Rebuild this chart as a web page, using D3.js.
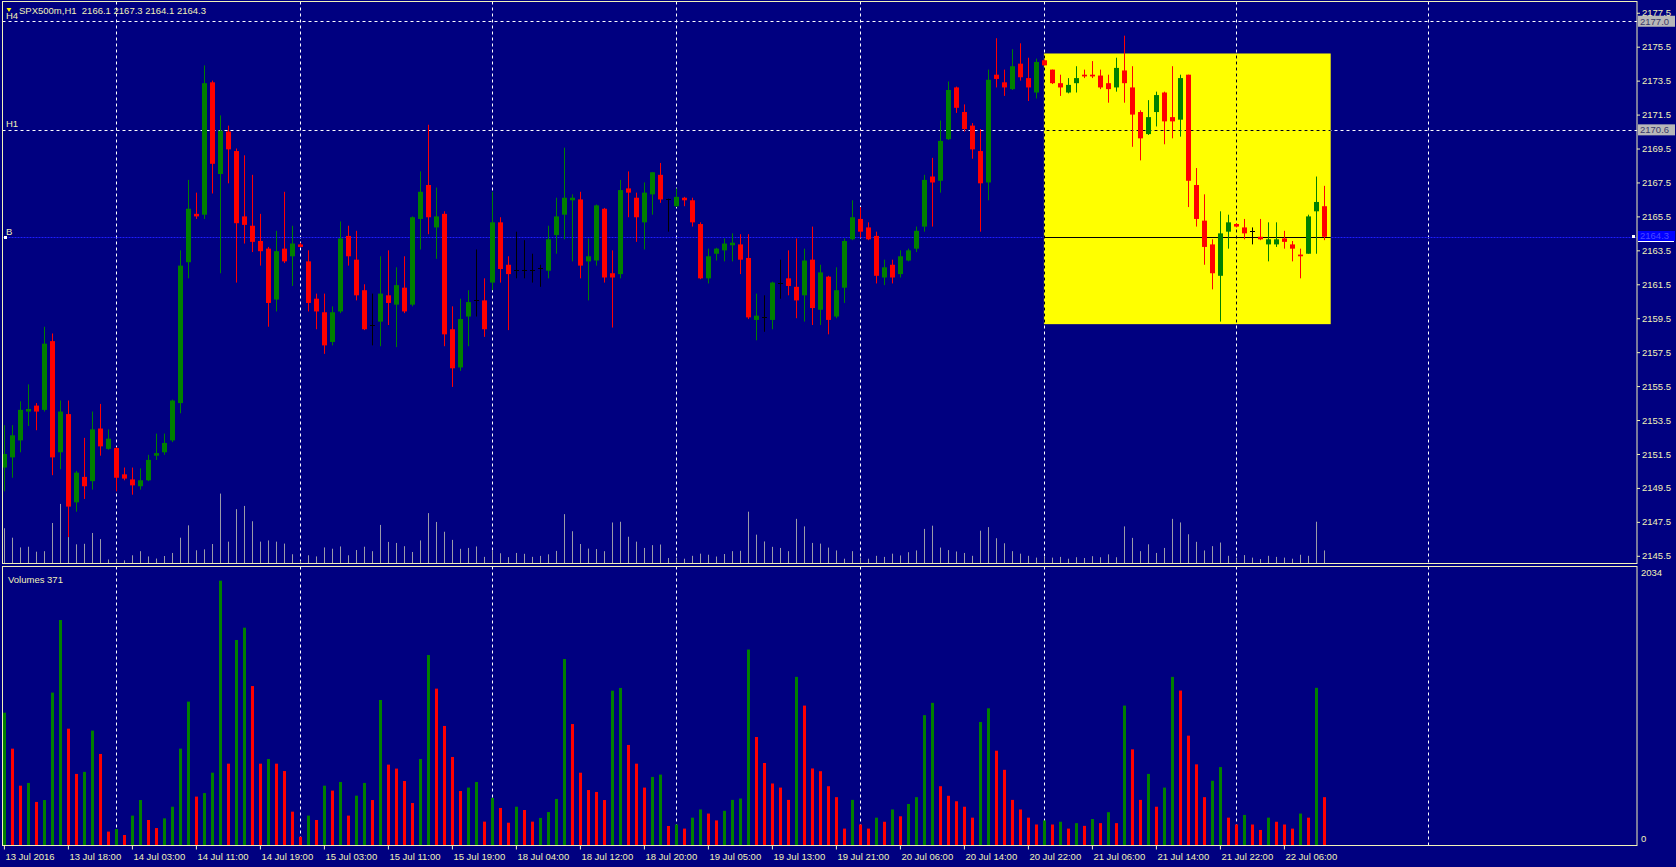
<!DOCTYPE html>
<html><head><meta charset="utf-8">
<script src="https://cdn.jsdelivr.net/npm/d3@7"></script>
<style>html,body{margin:0;padding:0;background:#000080;overflow:hidden}</style>
</head><body>
<svg id="c" width="1676" height="867"></svg>
<script>
// ---------- DATA ----------
const symbolTitle = "SPX500m,H1  2166.1 2167.3 2164.1 2164.3";
const opens = [2150.7,2151.3,2152.3,2154.0,2154.35,2154.1,2158.15,2151.6,2153.85,2148.65,
2150.15,2149.9,2153.0,2151.8,2151.85,2150.3,2150.0,2149.6,2149.95,2151.4,
2151.6,2152.3,2154.5,2162.8,2165.65,2165.6,2173.4,2168.0,2170.5,2169.35,
2165.5,2164.95,2164.05,2163.6,2160.6,2163.6,2163.15,2163.85,2162.85,2160.65,
2159.85,2158.1,2159.9,2164.35,2162.95,2161.15,2159.1,2159.3,2160.85,2160.3,
2161.3,2160.3,2165.35,2167.35,2164.85,2165.65,2158.85,2156.6,2159.6,2160.6,
2160.55,2161.6,2165.15,2162.65,2162.35,2162.35,2162.35,2162.45,2162.3,2164.4,
2165.6,2166.45,2166.5,2162.85,2162.9,2165.95,2162.15,2162.1,2167.15,2166.6,
2165.15,2166.8,2167.95,2166.5,2166.1,2166.6,2166.45,2165.05,2161.85,2163.3,
2163.5,2163.8,2163.85,2163.05,2159.4,2159.6,2159.4,2161.6,2161.85,2161.35,
2160.85,2162.95,2160.0,2161.95,2159.6,2161.3,2164.15,2165.35,2164.85,2164.35,
2161.9,2162.65,2162.1,2162.9,2163.6,2164.9,2167.85,2167.6,2170.05,2173.1,
2171.65,2170.85,2169.35,2167.5,2173.85,2173.4,2173.0,2174.5,2173.65,2172.8,
2174.7,2174.15,2173.35,2172.8,2173.35,2173.85,2173.85,2173.8,2173.35,2173.1,
2174.1,2173.1,2171.65,2170.35,2171.65,2172.8,2171.35,2171.2,2173.85,2167.35,
2165.25,2163.85,2162.0,2164.6,2165.05,2164.85,2164.65,2164.3,2163.85,2163.85,
2164.2,2163.85,2163.25,2163.3,2165.8,2166.1];
const highs = [2153.2,2153.2,2154.6,2155.6,2154.5,2159.0,2158.6,2154.65,2154.65,2150.5,
2152.45,2154.0,2154.45,2152.95,2151.9,2150.7,2150.7,2150.65,2151.45,2152.7,
2152.7,2154.7,2163.5,2167.65,2166.9,2174.4,2173.5,2171.45,2170.85,2169.5,
2169.1,2167.95,2165.65,2163.7,2164.65,2166.95,2164.95,2163.95,2163.5,2160.95,
2160.95,2160.2,2165.2,2164.95,2164.65,2161.5,2160.95,2163.15,2163.5,2162.5,
2163.15,2165.5,2168.15,2170.9,2167.2,2165.8,2160.2,2160.65,2161.15,2163.55,
2161.85,2166.95,2165.45,2163.15,2164.6,2164.1,2163.3,2162.65,2164.95,2166.6,
2169.55,2166.8,2166.95,2164.2,2166.2,2166.0,2163.5,2167.65,2168.15,2166.9,
2167.5,2168.1,2168.65,2166.55,2167.15,2166.65,2166.6,2165.15,2163.6,2163.65,
2164.2,2164.5,2164.45,2164.45,2160.95,2160.85,2161.65,2162.95,2163.5,2164.2,
2163.6,2164.9,2162.65,2162.0,2162.5,2164.2,2166.45,2166.05,2165.15,2164.6,
2162.95,2162.95,2163.5,2163.6,2164.9,2167.95,2168.95,2171.15,2173.45,2173.15,
2172.1,2171.0,2170.65,2174.15,2176.0,2174.15,2175.35,2175.7,2174.85,2174.8,
2174.75,2174.15,2173.85,2173.65,2174.35,2174.15,2174.65,2174.15,2173.85,2174.85,
2176.15,2174.35,2171.75,2172.35,2172.85,2172.85,2174.35,2173.85,2173.85,2168.35,
2166.8,2164.15,2165.8,2165.6,2165.1,2165.35,2164.85,2165.35,2165.15,2165.15,
2164.65,2164.05,2163.6,2165.6,2167.85,2167.3];
const lows = [2149.3,2150.1,2151.6,2153.15,2152.9,2154.0,2150.25,2150.6,2146.6,2148.1,
2148.85,2149.4,2151.4,2151.75,2149.3,2149.95,2149.1,2149.4,2149.9,2151.15,
2151.45,2152.2,2153.9,2161.85,2165.35,2165.35,2166.85,2162.15,2167.45,2161.6,
2163.9,2163.4,2162.6,2159.0,2159.9,2162.75,2161.4,2163.7,2159.9,2158.85,
2157.4,2157.9,2159.8,2162.6,2160.55,2158.8,2157.9,2157.85,2159.1,2157.8,
2159.8,2160.2,2163.55,2164.45,2163.0,2157.85,2155.45,2156.4,2157.85,2159.6,
2158.4,2161.15,2161.6,2158.8,2161.85,2161.85,2161.6,2161.35,2161.85,2163.3,
2164.15,2162.85,2161.85,2160.55,2162.6,2161.6,2158.95,2161.85,2165.45,2164.0,
2163.55,2165.6,2166.3,2164.6,2166.05,2166.1,2164.9,2161.8,2161.55,2162.9,
2162.85,2162.85,2162.1,2159.45,2158.2,2158.7,2158.85,2160.65,2160.85,2159.5,
2159.3,2159.1,2159.1,2158.55,2159.5,2160.4,2164.1,2164.25,2164.1,2161.55,
2161.45,2161.55,2161.9,2162.85,2163.4,2164.6,2164.9,2166.9,2170.0,2171.6,
2170.5,2168.9,2164.6,2166.45,2173.1,2172.6,2172.95,2173.5,2172.3,2172.45,
2174.4,2173.3,2172.6,2172.75,2172.8,2173.65,2173.65,2173.0,2172.2,2172.85,
2172.2,2169.6,2168.8,2170.3,2170.8,2169.75,2170.1,2170.2,2166.05,2164.9,
2162.65,2161.2,2159.3,2163.6,2164.85,2164.15,2163.85,2164.1,2162.85,2163.7,
2163.6,2162.85,2161.85,2163.3,2163.3,2164.1];
const closes = [2151.5,2152.6,2154.1,2154.15,2154.0,2158.0,2151.3,2154.0,2148.4,2150.4,
2149.6,2152.95,2151.95,2152.4,2150.1,2150.05,2149.65,2149.95,2151.15,2151.55,
2152.15,2154.65,2162.6,2165.95,2165.5,2173.35,2168.6,2170.55,2169.45,2165.1,
2165.0,2164.0,2163.45,2160.4,2163.45,2162.85,2163.9,2163.7,2160.4,2159.9,
2157.9,2159.85,2164.2,2163.15,2160.85,2158.85,2159.1,2160.95,2160.4,2161.45,
2159.9,2165.45,2166.95,2165.45,2165.5,2158.55,2156.55,2159.45,2160.45,2160.6,
2158.85,2165.15,2162.4,2162.1,2162.35,2162.35,2162.35,2162.45,2164.15,2165.5,
2166.6,2166.6,2162.6,2163.15,2166.15,2161.9,2161.9,2167.05,2166.9,2165.45,
2166.9,2168.1,2166.5,2166.5,2166.65,2166.45,2165.15,2161.85,2163.15,2163.6,
2163.9,2163.95,2162.95,2159.55,2159.65,2159.6,2161.6,2161.6,2161.4,2160.55,
2162.9,2160.1,2162.2,2159.4,2161.15,2164.05,2165.45,2164.6,2164.15,2162.0,
2162.5,2161.9,2163.15,2163.5,2164.65,2167.65,2167.5,2169.95,2172.95,2171.9,
2170.65,2169.45,2167.45,2173.55,2173.6,2173.1,2174.35,2173.7,2173.1,2174.6,
2174.4,2173.35,2173.1,2173.25,2173.65,2173.75,2173.75,2173.1,2173.0,2174.25,
2173.35,2171.5,2170.1,2171.35,2172.65,2171.1,2171.1,2173.65,2167.6,2165.35,
2163.7,2162.15,2164.5,2165.15,2164.9,2164.5,2164.65,2164.15,2164.15,2164.15,
2164.0,2163.6,2163.15,2165.5,2166.35,2164.3];
const volumes = [968,705,434,454,315,329,1115,1646,851,520,
535,837,666,98,117,73,215,329,183,124,
195,280,705,1049,354,380,529,1934,595,1500,
1590,1163,595,629,595,541,244,60,215,183,
434,398,461,215,361,454,329,1061,588,559,
468,307,629,1390,1144,871,644,395,420,461,
171,344,271,163,280,256,171,198,241,337,
1361,885,529,402,388,329,1129,1149,732,595,
420,498,515,139,150,120,200,260,230,180,
250,330,340,1430,790,600,450,420,330,1230,
1020,560,540,430,350,120,330,150,120,200,
170,260,210,300,350,950,1040,430,360,320,
280,200,900,1000,690,550,330,260,200,150,
180,150,170,120,160,140,190,160,240,160,
1020,700,330,520,280,420,1230,1130,800,590,
350,470,570,200,150,220,150,110,200,170,
150,120,230,200,1150,350];
const priceTicks = [2145.5,2147.5,2149.5,2151.5,2153.5,2155.5,2157.5,2159.5,2161.5,2163.5,2165.5,2167.5,2169.5,2171.5,2173.5,2175.5,2177.5];
const timeTickIndex = [0,8,16,24,32,40,48,56,64,72,80,88,96,104,112,120,128,136,144,152,160];
const timeTickLabels = ["13 Jul 2016","13 Jul 18:00","14 Jul 03:00","14 Jul 11:00","14 Jul 19:00","15 Jul 03:00","15 Jul 11:00","15 Jul 19:00","18 Jul 04:00","18 Jul 12:00","18 Jul 20:00","19 Jul 05:00","19 Jul 13:00","19 Jul 21:00","20 Jul 06:00","20 Jul 14:00","20 Jul 22:00","21 Jul 06:00","21 Jul 14:00","21 Jul 22:00","22 Jul 06:00"];
const separatorIndex = [14,37,61,84,107,130,154,178];
const hLineNames = ["H4","H1"];
const hLinePrices = [2177.0,2170.6];
const bidPrice = 2164.3;
const volumeMax = 2034;
const volumeTitle = "Volumes 371";
const rectBars = [130, 165.85];
const rectPrices = [2175.1, 2159.15];

// ---------- LAYOUT ----------
const W = 1676, H = 867;
const mainL = 2.5, mainR = 1637, mainT = 1.5, mainB = 563.5;
const volT = 566.5, volB = 845.5;
const BG = "#000080", FG = "#f2f2b8", GREEN = "#008000", RED = "#ff0000";
const FONT = "Liberation Sans, Arial, sans-serif";

const svg = d3.select("#c");
const x = d3.scaleLinear().domain([0, 165]).range([3.9, 3.9 + 8*165]);
const y = d3.scaleLinear().domain([2145.5, 2175.5]).range([555.8, 46.7]);
const yv = d3.scaleLinear().domain([0, volumeMax]).range([845, 567]);
const yvMain = d3.scaleLinear().domain([0, volumeMax]).range([563, 490]);
const n = opens.length;
const idx = d3.range(n);

svg.append("rect").attr("width", W).attr("height", H).attr("fill", BG);

const defs = svg.append("defs");
defs.append("clipPath").attr("id","clipMain").append("rect")
  .attr("x", mainL).attr("y", mainT).attr("width", mainR-mainL).attr("height", mainB-mainT);
defs.append("clipPath").attr("id","clipVol").append("rect")
  .attr("x", mainL).attr("y", volT).attr("width", mainR-mainL).attr("height", volB-volT);
const rx1 = x(rectBars[0]), rx2 = x(rectBars[1]), ry1 = y(rectPrices[0]), ry2 = y(rectPrices[1]);
defs.append("clipPath").attr("id","clipRect").append("rect")
  .attr("x", rx1).attr("y", ry1).attr("width", rx2-rx1).attr("height", ry2-ry1);

const gMain = svg.append("g").attr("clip-path","url(#clipMain)");
const gVol = svg.append("g").attr("clip-path","url(#clipVol)");

// rectangle object
gMain.append("rect").attr("x", rx1).attr("y", ry1).attr("width", rx2-rx1).attr("height", ry2-ry1).attr("fill", "#ffff00");

// separators & hlines (white), then black inside rectangle
function drawGrid(g, color, clip) {
  const gg = g.append("g");
  if (clip) gg.attr("clip-path", "url(#clipRect)");
  gg.selectAll("line.sep").data(separatorIndex).join("line")
    .attr("x1", d => Math.round(x(d)) + 0.5).attr("x2", d => Math.round(x(d)) + 0.5)
    .attr("y1", mainT).attr("y2", mainB)
    .attr("stroke", color).attr("stroke-dasharray", "3,3");
  gg.selectAll("line.hl").data(hLinePrices).join("line")
    .attr("x1", mainL).attr("x2", mainR)
    .attr("y1", d => Math.round(y(d)) + 0.5).attr("y2", d => Math.round(y(d)) + 0.5)
    .attr("stroke", color).attr("stroke-dasharray", "3,3");
}
drawGrid(gMain, "#ffffff", false);
drawGrid(gMain, "#000000", true);
gVol.selectAll("line.sep").data(separatorIndex).join("line")
  .attr("x1", d => Math.round(x(d)) + 0.5).attr("x2", d => Math.round(x(d)) + 0.5)
  .attr("y1", volT).attr("y2", volB)
  .attr("stroke", "#ffffff").attr("stroke-dasharray", "3,3");

// bid line
const by = Math.round(y(bidPrice)) + 0.5;
gMain.append("line").attr("x1", mainL).attr("x2", mainR).attr("y1", by).attr("y2", by)
  .attr("stroke", "#1e1eff").attr("stroke-dasharray", "2,1");
gMain.append("line").attr("x1", rx1).attr("x2", rx2).attr("y1", by).attr("y2", by)
  .attr("stroke", "#000000");

// volume lines in main pane
gMain.append("g").selectAll("line").data(idx).join("line")
  .attr("x1", i => Math.round(x(i)) + 0.5).attr("x2", i => Math.round(x(i)) + 0.5)
  .attr("y1", yvMain(0)).attr("y2", i => yvMain(volumes[i]))
  .attr("stroke", "#9a9aa8").attr("stroke-width", 1);

// candles
const col = i => closes[i] > opens[i] ? GREEN : (closes[i] < opens[i] ? RED : "#000000");
const gC = gMain.append("g");
gC.selectAll("line.wick").data(idx).join("line")
  .attr("x1", i => Math.round(x(i)) + 0.5).attr("x2", i => Math.round(x(i)) + 0.5)
  .attr("y1", i => y(highs[i])).attr("y2", i => y(lows[i]))
  .attr("stroke", col).attr("stroke-width", 1);
gC.selectAll("rect.body").data(idx.filter(i => closes[i] !== opens[i])).join("rect")
  .attr("x", i => Math.round(x(i)) - 2).attr("width", 5)
  .attr("y", i => y(Math.max(opens[i], closes[i])))
  .attr("height", i => Math.max(1, Math.abs(y(opens[i]) - y(closes[i]))))
  .attr("fill", col);
gC.selectAll("line.doji").data(idx.filter(i => closes[i] === opens[i])).join("line")
  .attr("x1", i => Math.round(x(i)) - 2).attr("x2", i => Math.round(x(i)) + 3)
  .attr("y1", i => Math.round(y(opens[i])) + 0.5).attr("y2", i => Math.round(y(opens[i])) + 0.5)
  .attr("stroke", "#000000");

// markers
svg.append("rect").attr("x", 4).attr("y", by - 1.5).attr("width", 3).attr("height", 3).attr("fill", "#ffffff");
svg.append("rect").attr("x", 1632).attr("y", by - 2.5).attr("width", 3).attr("height", 3).attr("fill", "#ffffff");

// volume bars
const vcol = i => (i > 0 && volumes[i] > volumes[i-1]) || i === 0 ? GREEN : RED;
gVol.selectAll("rect.v").data(idx).join("rect")
  .attr("x", i => Math.round(x(i)) - 1).attr("width", 3)
  .attr("y", i => yv(volumes[i])).attr("height", i => yv(0) - yv(volumes[i]))
  .attr("fill", vcol);

// frames
const frame = svg.append("g").attr("fill", "none").attr("stroke", FG).attr("stroke-width", 1);
frame.append("rect").attr("x", mainL).attr("y", mainT).attr("width", mainR - mainL).attr("height", mainB - mainT);
frame.append("rect").attr("x", mainL).attr("y", volT).attr("width", mainR - mainL).attr("height", volB - volT);

// price axis
const pa = svg.append("g").attr("transform", `translate(${mainR},0)`)
  .call(d3.axisRight(y).tickValues(priceTicks).tickSize(3).tickPadding(2).tickFormat(d3.format(".1f")));
pa.select(".domain").remove();
pa.selectAll("line").attr("stroke", FG);
pa.selectAll("text").attr("fill", FG).attr("font-family", FONT).attr("font-size", 9.5);

// hline price labels
hLinePrices.forEach((p, k) => {
  const yy = y(p);
  svg.append("rect").attr("x", mainR + 1).attr("y", yy - 5.5).attr("width", 37).attr("height", 11).attr("fill", "#b8b8b8");
  svg.append("text").attr("x", mainR + 3).attr("y", yy).attr("dy", "0.35em")
    .attr("fill", "#3a3a6a").attr("font-family", FONT).attr("font-size", 9.5).text(d3.format(".1f")(p));
  svg.append("text").attr("x", 6).attr("y", yy - 2.5).attr("fill", FG)
    .attr("font-family", FONT).attr("font-size", 9.5).text(hLineNames[k]);
});
// bid label
svg.append("rect").attr("x", mainR + 1).attr("y", by - 6.5).attr("width", 37).attr("height", 10).attr("fill", "#0000ff");
svg.append("text").attr("x", mainR + 3).attr("y", by - 1.5).attr("dy", "0.35em")
  .attr("fill", "#4a4aff").attr("font-family", FONT).attr("font-size", 9.5).text(d3.format(".1f")(bidPrice));
svg.append("line").attr("x1", mainR + 1).attr("x2", 1674).attr("y1", by + 4).attr("y2", by + 4).attr("stroke", "#ffffff");
svg.append("text").attr("x", 6).attr("y", by - 2.5).attr("fill", FG)
  .attr("font-family", FONT).attr("font-size", 9.5).text("B");

// title
svg.append("path").attr("d", "M6.5,8 L11.5,8 L9,12 Z").attr("fill", "#ffff00");
svg.append("text").attr("x", 19).attr("y", 13.5).attr("fill", FG)
  .attr("font-family", FONT).attr("font-size", 9.5).attr("xml:space", "preserve").style("white-space", "pre").text(symbolTitle);
svg.append("text").attr("x", 8).attr("y", 583).attr("fill", FG)
  .attr("font-family", FONT).attr("font-size", 9.5).text(volumeTitle);

// volume axis labels
svg.append("text").attr("x", mainR + 4).attr("y", 573).attr("dy", "0.35em").attr("fill", FG)
  .attr("font-family", FONT).attr("font-size", 9.5).text(String(volumeMax));
svg.append("text").attr("x", mainR + 4).attr("y", 839).attr("dy", "0.35em").attr("fill", FG)
  .attr("font-family", FONT).attr("font-size", 9.5).text("0");

// time axis
const ta = svg.append("g").attr("transform", `translate(0,${volB})`)
  .call(d3.axisBottom(x).tickValues(timeTickIndex).tickSize(4).tickPadding(4)
    .tickFormat((d, i) => timeTickLabels[i]));
ta.select(".domain").remove();
ta.selectAll("line").attr("stroke", FG);
ta.selectAll("text").attr("fill", FG).attr("font-family", FONT).attr("font-size", 9.5)
  .attr("text-anchor", "start").attr("x", 1);
</script>
</body></html>
